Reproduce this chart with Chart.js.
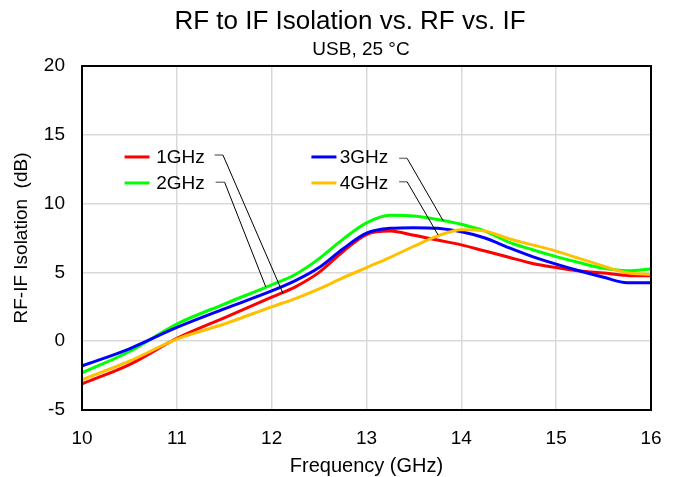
<!DOCTYPE html>
<html><head><meta charset="utf-8">
<script src="https://cdn.jsdelivr.net/npm/chart.js@4.4.1/dist/chart.umd.min.js"></script>
<style>html,body{margin:0;padding:0;background:#fff}#wrap{width:681px;height:477px;position:relative}</style>
</head><body><div id="wrap"><canvas id="c"></canvas></div>
<script>
// ---- data ----
const freq = [10, 10.5, 11, 11.5, 12, 12.25, 12.5, 12.75, 13, 13.25, 13.5, 13.75, 14, 14.25, 14.5, 14.75, 15, 15.25, 15.5, 15.75, 16];
const iso1GHz = [-3.1, -1.7, 0.2, 1.7, 3.2, 3.95, 5.0, 6.5, 7.75, 8.0, 7.7, 7.35, 7.0, 6.55, 6.1, 5.65, 5.35, 5.1, 4.95, 4.78, 4.75];
const iso2GHz = [-2.3, -0.75, 1.25, 2.7, 4.1, 4.85, 6.0, 7.4, 8.6, 9.15, 9.1, 8.85, 8.5, 8.0, 7.2, 6.65, 6.15, 5.7, 5.3, 5.12, 5.25];
const iso3GHz = [-1.8, -0.55, 1.0, 2.35, 3.65, 4.4, 5.35, 6.7, 7.85, 8.2, 8.25, 8.2, 7.95, 7.5, 6.8, 6.15, 5.6, 5.1, 4.65, 4.25, 4.25];
const iso4GHz = [-2.8, -1.45, 0.15, 1.25, 2.5, 3.1, 3.8, 4.6, 5.35, 6.1, 6.9, 7.65, 8.1, 8.0, 7.45, 7.0, 6.55, 6.0, 5.45, 4.97, 4.85];
const seriesNames = ['1GHz', '2GHz', '3GHz', '4GHz'];
const xTickValues = [10, 11, 12, 13, 14, 15, 16];
const yTickValues = [-5, 0, 5, 10, 15, 20];
const titleText = 'RF to IF Isolation vs. RF vs. IF';
const subtitleText = 'USB, 25 °C';
const xTitleText = 'Frequency (GHz)';
const yTitleText = 'RF-IF Isolation  (dB)';

// ---- styling / layout ----
const colors = ['#FF0000', '#00FF00', '#0000FF', '#FFC000'];
const FONT = '"Liberation Sans", Arial, sans-serif';
// legend / callout layout in axis units
const legendLayout = [
  {sw:[10.449,10.712], tx:10.783, y:13.39, tick:[11.398,11.486,13.53], to:[12.119,3.48]},
  {sw:[10.449,10.712], tx:10.783, y:11.50, tick:[11.409,11.504,11.55], to:[11.937,3.96]},
  {sw:[12.419,12.683], tx:12.718, y:13.39, tick:[13.344,13.428,13.29], to:[13.808,8.76]},
  {sw:[12.419,12.683], tx:12.718, y:11.50, tick:[13.344,13.428,11.59], to:[13.755,7.72]}
];

const seriesValues = [iso1GHz, iso2GHz, iso3GHz, iso4GHz];
const drawOrder = [3, 2, 1, 0];

const deco = {
  id: 'deco',
  afterDraw(chart) {
    const {ctx, chartArea: a, scales: {x, y}} = chart;
    ctx.save();
    // plot frame
    ctx.strokeStyle = '#000'; ctx.lineWidth = 2;
    ctx.strokeRect(a.left, a.top, a.right - a.left, a.bottom - a.top);
    // titles
    ctx.fillStyle = '#000'; ctx.textAlign = 'center'; ctx.textBaseline = 'alphabetic';
    ctx.font = '26px ' + FONT; ctx.fillText(titleText, 350, 28.5);
    ctx.font = '19px ' + FONT; ctx.fillText(subtitleText, 361, 54.5);
    // legend with callouts
    legendLayout.forEach((L, i) => {
      const py = y.getPixelForValue(L.y);
      ctx.strokeStyle = colors[i]; ctx.lineWidth = 3;
      ctx.beginPath(); ctx.moveTo(x.getPixelForValue(L.sw[0]), py); ctx.lineTo(x.getPixelForValue(L.sw[1]), py); ctx.stroke();
      ctx.fillStyle = '#000'; ctx.textAlign = 'left'; ctx.textBaseline = 'middle';
      ctx.font = '19px ' + FONT; ctx.fillText(seriesNames[i], x.getPixelForValue(L.tx), py + 1);
      const ty = y.getPixelForValue(L.tick[2]);
      ctx.strokeStyle = '#808080'; ctx.lineWidth = 1.5;
      ctx.beginPath(); ctx.moveTo(x.getPixelForValue(L.tick[0]), ty); ctx.lineTo(x.getPixelForValue(L.tick[1]), ty); ctx.stroke();
      ctx.strokeStyle = '#000'; ctx.lineWidth = 1;
      ctx.beginPath(); ctx.moveTo(x.getPixelForValue(L.tick[1]), ty); ctx.lineTo(x.getPixelForValue(L.to[0]), y.getPixelForValue(L.to[1])); ctx.stroke();
    });
    ctx.restore();
  }
};

new Chart(document.getElementById('c'), {
  type: 'line',
  data: {
    datasets: seriesNames.map((n, i) => ({
      label: n,
      data: freq.map((f, k) => ({x: f, y: seriesValues[i][k]})),
      borderColor: colors[i],
      backgroundColor: colors[i],
      borderWidth: 3,
      pointRadius: 0,
      cubicInterpolationMode: 'monotone',
      fill: false,
      order: drawOrder[i]
    }))
  },
  options: {
    responsive: true,
    maintainAspectRatio: false,
    animation: false,
    devicePixelRatio: 1,
    layout: {padding: {top: 66, right: 30, left: 0, bottom: 0}},
    plugins: {legend: {display: false}, tooltip: {enabled: false}, title: {display: false}},
    scales: {
      x: {
        type: 'linear', min: 10, max: 16,
        afterFit: s => { s.height = 67; },
        afterBuildTicks: s => { s.ticks = xTickValues.map(v => ({value: v})); },
        border: {display: false},
        grid: {color: '#d9d9d9', lineWidth: 1.5, drawTicks: false},
        ticks: {color: '#000', font: {family: FONT, size: 19}, padding: 17, maxRotation: 0},
        title: {display: true, text: xTitleText, color: '#000', font: {family: FONT, size: 20, lineHeight: 1}, padding: {top: 0, bottom: 1}}
      },
      y: {
        type: 'linear', min: -5, max: 20,
        afterFit: s => { s.width = 82; },
        afterBuildTicks: s => { s.ticks = yTickValues.map(v => ({value: v})); },
        border: {display: false},
        grid: {color: '#d9d9d9', lineWidth: 1.5, drawTicks: false},
        ticks: {color: '#000', font: {family: FONT, size: 19}, padding: 17},
        title: {display: true, text: yTitleText, color: '#000', font: {family: FONT, size: 19, lineHeight: 1.2}, padding: {top: 10, bottom: 0}}
      }
    }
  },
  plugins: [deco]
});
</script>
</body></html>
